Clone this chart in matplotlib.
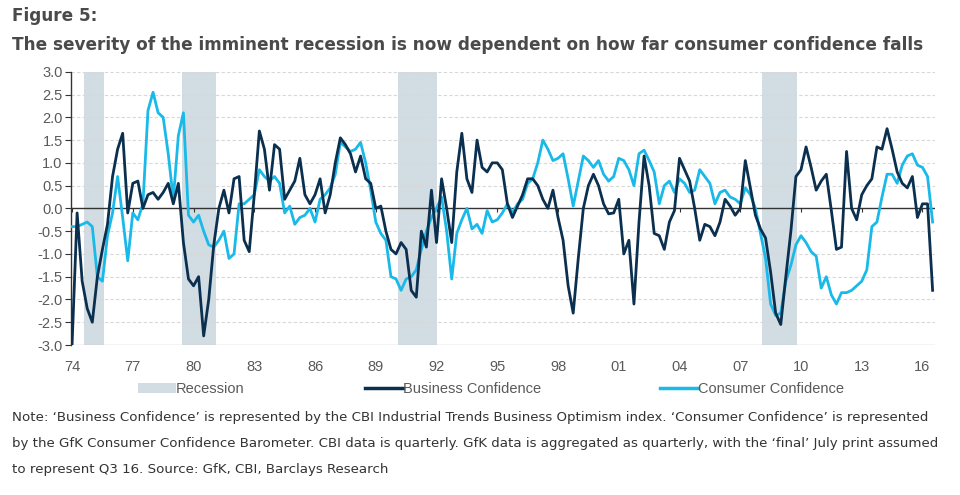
import numpy as np
import matplotlib
matplotlib.use("Agg")
import matplotlib.pyplot as plt
from matplotlib.patches import Patch
from matplotlib.lines import Line2D

# quarterly data, 1974 Q1 .. 2016 Q3
business = [
    -3.0, -0.1, -1.6, -2.2, -2.5, -1.5, -0.9, -0.35, 0.7, 1.3,
    1.65, -0.1, 0.55, 0.6, 0.0, 0.3, 0.35, 0.2, 0.35, 0.55,
    0.1, 0.55, -0.75, -1.55, -1.7, -1.5, -2.8, -2.0, -0.8, 0.0,
    0.4, -0.1, 0.65, 0.7, -0.7, -0.95, 0.3, 1.7, 1.3, 0.4,
    1.4, 1.3, 0.2, 0.4, 0.6, 1.1, 0.3, 0.1, 0.3, 0.65,
    -0.1, 0.3, 1.0, 1.55, 1.4, 1.2, 0.8, 1.15, 0.65, 0.55,
    0.0, 0.05, -0.5, -0.9, -1.0, -0.75, -0.9, -1.8, -1.95, -0.5,
    -0.85, 0.4, -0.75, 0.65, 0.0, -0.75, 0.8, 1.65, 0.65, 0.35,
    1.5, 0.9, 0.8, 1.0, 1.0, 0.85, 0.1, -0.2, 0.05, 0.3,
    0.65, 0.65, 0.5, 0.2, 0.0, 0.4, -0.2, -0.7, -1.7, -2.3,
    -1.1, 0.0, 0.5, 0.75, 0.5, 0.1, -0.12, -0.1, 0.2, -1.0,
    -0.7, -2.1, -0.3, 1.15, 0.5, -0.55, -0.6, -0.9, -0.3, -0.05,
    1.1, 0.85, 0.6, 0.0, -0.7, -0.35, -0.4, -0.6, -0.3, 0.2,
    0.05, -0.15, 0.0, 1.05, 0.45, -0.15, -0.45, -0.65, -1.4, -2.3,
    -2.55, -1.5, -0.5, 0.7, 0.85, 1.35, 0.9, 0.4, 0.6, 0.75,
    -0.05, -0.9, -0.85, 1.25, 0.0, -0.25, 0.3, 0.5, 0.65, 1.35,
    1.3, 1.75, 1.3, 0.8, 0.55, 0.45, 0.7, -0.2, 0.1, 0.1,
    -1.8,
]
consumer = [
    -0.4, -0.4, -0.35, -0.3, -0.4, -1.5, -1.6, -0.6, -0.1, 0.7,
    -0.2, -1.15, -0.1, -0.25, 0.1, 2.15, 2.55, 2.1, 2.0, 1.2,
    0.2, 1.6, 2.1, -0.15, -0.3, -0.15, -0.5, -0.8, -0.85, -0.7,
    -0.5, -1.1, -1.0, 0.1, 0.1, 0.2, 0.3, 0.85, 0.7, 0.6,
    0.7, 0.55, -0.1, 0.05, -0.35, -0.2, -0.15, 0.0, -0.3, 0.2,
    0.3, 0.45, 0.75, 1.45, 1.35, 1.25, 1.3, 1.45, 1.0, 0.4,
    -0.3, -0.55, -0.7, -1.5, -1.55, -1.8, -1.55, -1.5, -1.35, -0.9,
    -0.5, -0.2, 0.0, 0.25, -0.5, -1.55, -0.55, -0.25, 0.0, -0.45,
    -0.35, -0.55, -0.05, -0.3, -0.25, -0.1, 0.1, -0.1, 0.1, 0.2,
    0.55, 0.65, 1.0, 1.5, 1.3, 1.05, 1.1, 1.2, 0.65, 0.05,
    0.6, 1.15, 1.05, 0.9, 1.05, 0.75, 0.6, 0.7, 1.1, 1.05,
    0.85, 0.5, 1.2, 1.28, 1.05, 0.8, 0.1, 0.5, 0.6, 0.35,
    0.65, 0.55, 0.35, 0.4, 0.85, 0.7, 0.55, 0.1, 0.35, 0.4,
    0.25, 0.2, 0.1, 0.45, 0.3, 0.0, -0.55, -1.1, -2.1, -2.35,
    -2.3, -1.6, -1.25, -0.8, -0.6, -0.75, -0.95, -1.05, -1.75, -1.5,
    -1.9, -2.1, -1.85, -1.85, -1.8, -1.7, -1.6, -1.35, -0.4, -0.3,
    0.25, 0.75, 0.75, 0.55, 0.95, 1.15, 1.2, 0.95, 0.9, 0.7,
    -0.3,
]
rec_start = [1974.6, 1979.45, 1990.1, 2008.05]
rec_end = [1975.6, 1981.1, 1992.0, 2009.8]
tick_years = list(range(1974, 2017, 3))
tick_labels = ["74", "77", "80", "83", "86", "89", "92", "95", "98",
               "01", "04", "07", "10", "13", "16"]
legend_labels = ["Recession", "Business Confidence", "Consumer Confidence"]

dark = "#0b2f4f"
light = "#19b9e9"
shade = "#d2dce3"
grey_txt = "#5a5a5a"
narrow = ["Liberation Sans Narrow", "Liberation Sans", "DejaVu Sans"]

x = 1974 + np.arange(len(business)) / 4.0

fig = plt.figure(figsize=(9.6, 4.95), dpi=100)
ax = fig.add_axes([0.074, 0.303, 0.9, 0.552])

for s, e in zip(rec_start, rec_end):
    ax.axvspan(s, e, color=shade, lw=0, zorder=0)

yt = np.arange(-3.0, 3.01, 0.5)
for v in yt:
    if abs(v) > 1e-9 and v > -2.99:
        ax.axhline(v, color="#d8d8d8", lw=0.8, ls=(0, (3, 2)), zorder=1)
ax.axhline(-3.0, color="#c8c8c8", lw=1.0, zorder=1)
ax.axhline(0, color="#333333", lw=1.0, zorder=2)
ax.vlines(tick_years, -0.07, 0, color="#333333", lw=0.8, zorder=2)

ax.plot(x, consumer, color=light, lw=2.0, zorder=3)
ax.plot(x, business, color=dark, lw=2.0, zorder=4)

ax.set_xlim(1973.95, 2016.62)
ax.set_ylim(-3.0, 3.0)
ax.set_yticks(yt)
ax.set_yticklabels(["%.1f" % v for v in yt])
ax.set_xticks(tick_years)
ax.set_xticklabels(tick_labels)
ax.tick_params(axis="y", length=4, width=0.8, color="#333333", pad=2,
               labelsize=10.5, labelcolor=grey_txt)
ax.tick_params(axis="x", length=0, pad=11, labelsize=10.5, labelcolor=grey_txt)
for lab in ax.get_xticklabels() + ax.get_yticklabels():
    lab.set_family(narrow)
for sp in ["top", "right", "bottom"]:
    ax.spines[sp].set_visible(False)
ax.spines["left"].set_color("#333333")
ax.spines["left"].set_linewidth(1.0)

fig.text(0.013, 0.968, "Figure 5:", fontsize=12.2, fontweight="bold",
         color="#4a4a4a", va="center", family="DejaVu Sans")
fig.text(0.013, 0.91,
         "The severity of the imminent recession is now dependent on how far consumer confidence falls",
         fontsize=12.2, fontweight="bold", color="#4a4a4a", va="center",
         family="DejaVu Sans")

# three legend entries placed separately, like the original
handles = [Patch(facecolor=shade, edgecolor="none"),
           Line2D([0], [0], color=dark, lw=2.5),
           Line2D([0], [0], color=light, lw=2.5)]
leg_x = [138 / 960, 365 / 960, 660 / 960]
for h, lab, lx in zip(handles, legend_labels, leg_x):
    leg = fig.legend([h], [lab], loc="center left", bbox_to_anchor=(lx, 0.214),
                     frameon=False, handlelength=2.6, handletextpad=0.0,
                     borderpad=0, borderaxespad=0,
                     prop={"family": narrow, "size": 10.5})
    for t in leg.get_texts():
        t.set_color(grey_txt)

notes = [
    "Note: \u2018Business Confidence\u2019 is represented by the CBI Industrial Trends Business Optimism index. \u2018Consumer Confidence\u2019 is represented",
    "by the GfK Consumer Confidence Barometer. CBI data is quarterly. GfK data is aggregated as quarterly, with the \u2018final\u2019 July print assumed",
    "to represent Q3 16. Source: GfK, CBI, Barclays Research",
]
for k, line in enumerate(notes):
    fig.text(0.013, 0.157 - k * 0.053, line, fontsize=9.6, color="#333333",
             va="center", family="DejaVu Sans")

fig.savefig("out.png", dpi=100)
